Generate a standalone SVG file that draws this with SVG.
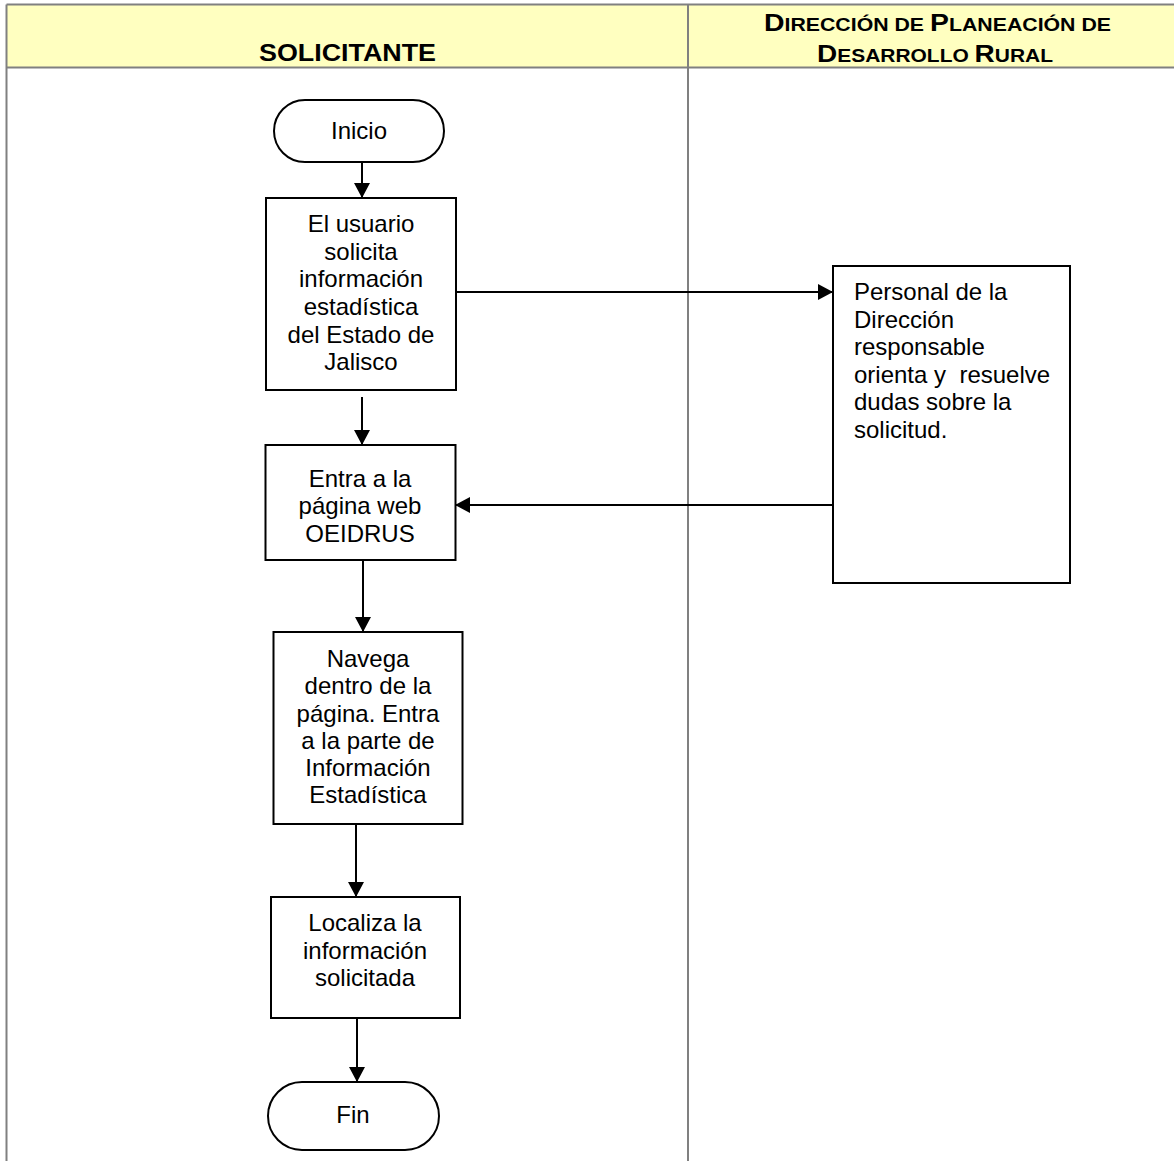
<svg xmlns="http://www.w3.org/2000/svg" width="1174" height="1161" viewBox="0 0 1174 1161">
<defs>
<marker id="ah" viewBox="0 0 15 16" refX="15" refY="8" markerWidth="15" markerHeight="16" markerUnits="userSpaceOnUse" orient="auto"><path d="M0,0 L15,8 L0,16 z" fill="#000"/></marker>
<style>
.lane{fill:none;stroke:#808080;stroke-width:2}
.hdr{fill:#FFFFC0;stroke:none}
.ht{font-family:"Liberation Sans",Arial,sans-serif;font-weight:bold;fill:#000}
.box{fill:#fff;stroke:#000;stroke-width:2}
.t{font-family:"Liberation Sans",Arial,sans-serif;font-size:24px;fill:#000;text-anchor:middle}
.tl{font-family:"Liberation Sans",Arial,sans-serif;font-size:24px;fill:#000}
.c{fill:none;stroke:#000;stroke-width:2}
</style>
</defs>
<g id="lanes">
<rect class="hdr" x="7" y="5" width="1167" height="62"/>
<path class="lane" d="M6.5,4.5 H1174 M6.5,67.5 H1174 M6.5,4.5 V1161 M688,4.5 V1161"/>
<text class="ht" x="259" y="61" font-size="24" textLength="177" lengthAdjust="spacingAndGlyphs">SOLICITANTE</text>
<text class="ht" x="764" y="30.5" font-size="18" textLength="347" lengthAdjust="spacingAndGlyphs"><tspan font-size="24">D</tspan>IRECCIÓN DE <tspan font-size="24">P</tspan>LANEACIÓN DE</text>
<text class="ht" x="817" y="61.5" font-size="18" textLength="236" lengthAdjust="spacingAndGlyphs"><tspan font-size="24">D</tspan>ESARROLLO <tspan font-size="24">R</tspan>URAL</text>
</g>
<g id="inicio"><rect class="box" x="274" y="100" width="170" height="62" rx="31"/><text class="t" x="359" y="139">Inicio</text></g>
<g id="n1"><rect class="box" x="266" y="198" width="190" height="192"/>
<text class="t"><tspan x="361" y="232">El usuario</tspan><tspan x="361" y="260">solicita</tspan><tspan x="361" y="287">información</tspan><tspan x="361" y="315">estadística</tspan><tspan x="361" y="343">del Estado de</tspan><tspan x="361" y="370">Jalisco</tspan></text></g>
<g id="n2"><rect class="box" x="265.5" y="445" width="190" height="115"/>
<text class="t"><tspan x="360" y="487">Entra a la</tspan><tspan x="360" y="514">página web</tspan><tspan x="360" y="542">OEIDRUS</tspan></text></g>
<g id="n3"><rect class="box" x="273.5" y="632" width="189" height="192"/>
<text class="t"><tspan x="368" y="667">Navega</tspan><tspan x="368" y="694">dentro de la</tspan><tspan x="368" y="722">página. Entra</tspan><tspan x="368" y="749">a la parte de</tspan><tspan x="368" y="776">Información</tspan><tspan x="368" y="803">Estadística</tspan></text></g>
<g id="n4"><rect class="box" x="271" y="897" width="189" height="121"/>
<text class="t"><tspan x="365" y="931">Localiza la</tspan><tspan x="365" y="959">información</tspan><tspan x="365" y="986">solicitada</tspan></text></g>
<g id="fin"><rect class="box" x="268" y="1082" width="171" height="68" rx="34"/><text class="t" x="353" y="1122.5">Fin</text></g>
<g id="n5"><rect class="box" x="833" y="266" width="237" height="317"/>
<text class="tl"><tspan x="854" y="300">Personal de la</tspan><tspan x="854" y="327.5">Dirección</tspan><tspan x="854" y="355">responsable</tspan><tspan x="854" y="382.5" xml:space="preserve">orienta y  resuelve</tspan><tspan x="854" y="410">dudas sobre la</tspan><tspan x="854" y="437.5">solicitud.</tspan></text></g>
<g id="connectors">
<path class="c" d="M362,162 V198" marker-end="url(#ah)"/>
<path class="c" d="M362,397 V445" marker-end="url(#ah)"/>
<path class="c" d="M363,560 V632" marker-end="url(#ah)"/>
<path class="c" d="M356,825 V897" marker-end="url(#ah)"/>
<path class="c" d="M357,1018 V1082" marker-end="url(#ah)"/>
<path class="c" d="M456,292 H833" marker-end="url(#ah)"/>
<path class="c" d="M833,505 H455" marker-end="url(#ah)"/>
</g>
</svg>
